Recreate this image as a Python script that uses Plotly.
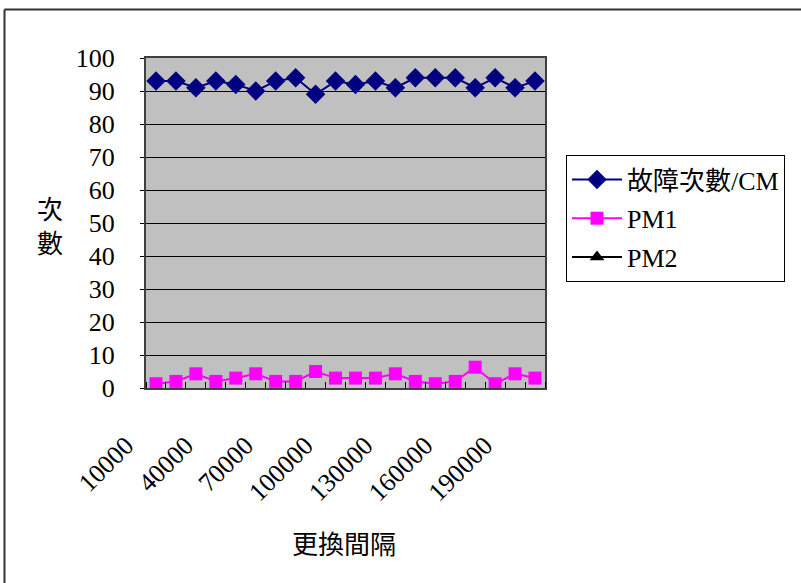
import plotly.graph_objects as go

# Replacement interval (更換間隔) and failure counts per interval
intervals = [10000, 20000, 30000, 40000, 50000, 60000, 70000, 80000, 90000, 100000,
             110000, 120000, 130000, 140000, 150000, 160000, 170000, 180000, 190000, 200000]
cm_counts = [93, 93, 91, 93, 92, 90, 93, 94, 89, 93, 92, 93, 91, 94, 94, 94, 91, 94, 91, 93]
pm1_counts = [1.3, 2, 4.3, 2, 3, 4.3, 2, 2, 5, 3, 3, 3, 4.3, 2, 1.3, 2, 6.3, 1.3, 4.3, 3]
pm2_counts = [None] * len(intervals)

x_tick_labels = [10000, 40000, 70000, 100000, 130000, 160000, 190000]
y_ticks = list(range(0, 101, 10))

W, H = 801, 583
L, R, T, B = 146, 545, 58, 388  # plot area in pixels
pw, ph = R - L, B - T


def px(x):
    return (x - L) / pw


def py(y):
    return (B - y) / ph


FONT = "Liberation Serif"
MIXED = "Liberation Serif, Noto Sans CJK TC"
CJK = "Noto Sans CJK TC"

fig = go.Figure()
fig.add_trace(go.Scatter(
    x=intervals, y=cm_counts, name="故障次數/CM", mode="lines+markers",
    line=dict(color="#000080", width=2),
    marker=dict(symbol="diamond", size=15, color="#000080"),
    legendgroup="a",
))
fig.add_trace(go.Scatter(
    x=intervals, y=pm1_counts, name="PM1", mode="lines+markers",
    line=dict(color="#FF00FF", width=2),
    marker=dict(symbol="square", size=13, color="#FF00FF"),
    legendgroup="b",
))
fig.add_trace(go.Scatter(
    x=intervals, y=pm2_counts, name="PM2", mode="lines+markers",
    line=dict(color="#000000", width=2),
    marker=dict(symbol="triangle-up", size=13, color="#000000"),
    legendgroup="c",
))

fig.update_layout(
    width=W, height=H,
    margin=dict(l=L, r=W - R, t=T, b=H - B, autoexpand=False),
    paper_bgcolor="white",
    plot_bgcolor="#C0C0C0",
    font=dict(family=FONT, size=25, color="black"),
    showlegend=True,
    legend=dict(
        x=px(566), y=py(155), xanchor="left", yanchor="top",
        bgcolor="white", bordercolor="black", borderwidth=1,
        font=dict(family=MIXED, size=26),
        tracegroupgap=2, traceorder="grouped", itemwidth=50,
    ),
    xaxis=dict(
        range=[5000, 205000], showgrid=False, zeroline=False,
        tickvals=x_tick_labels, tickformat="d",
        tickangle=-45, ticks="", ticklabelstandoff=30, ticklabelshift=-30,
        tickfont=dict(family=FONT, size=26),
        minor=dict(ticks="inside", ticklen=6, tickcolor="black",
                   tick0=5000, dtick=10000, showgrid=False),
        showline=True, linecolor="#404040", linewidth=2, mirror=True,
    ),
    yaxis=dict(
        range=[0, 100], tickvals=y_ticks, showgrid=True, gridcolor="black",
        gridwidth=1, zeroline=False, ticks="outside", ticklen=4,
        tickcolor="black", ticklabelstandoff=20,
        tickfont=dict(family=FONT, size=26),
        showline=True, linecolor="#404040", linewidth=2, mirror=True,
    ),
    shapes=[
        dict(type="line", xref="paper", yref="paper",
             x0=px(4.5), x1=px(801), y0=py(9.5), y1=py(9.5),
             line=dict(color="#333333", width=2)),
        dict(type="line", xref="paper", yref="paper",
             x0=px(4.5), x1=px(4.5), y0=py(9.5), y1=py(583),
             line=dict(color="#333333", width=2)),
    ],
    annotations=[
        dict(text="次<br>數", xref="paper", yref="paper", x=px(50), y=py(224),
             xanchor="center", yanchor="middle",
             showarrow=False, font=dict(family=CJK, size=26)),
        dict(text="更換間隔", xref="paper", yref="paper", x=px(344), y=py(542),
             xanchor="center", yanchor="middle",
             showarrow=False, font=dict(family=CJK, size=26)),
    ],
)

fig.write_html("out.html")
